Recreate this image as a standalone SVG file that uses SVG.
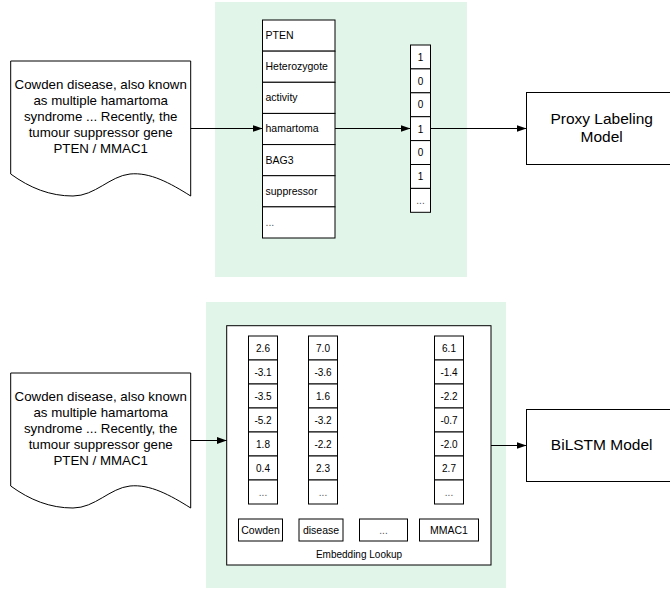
<svg xmlns="http://www.w3.org/2000/svg" width="670" height="589" viewBox="0 0 670 589">
<style>
.bg{fill:#e1f5e8;stroke:none}
.box{fill:#fff;stroke:#000;stroke-width:1}
.t{font-family:"Liberation Sans",Arial,sans-serif;fill:#000}
.doc{font-size:13.3px;text-anchor:middle}
.cell{font-size:10.5px}
.num{font-size:10px;text-anchor:middle}
.bin{font-size:10px;text-anchor:middle}
.big{font-size:15.5px;text-anchor:middle}
.dots{fill:#555}
.conn{stroke:#000;stroke-width:1;fill:none;marker-end:url(#ah)}
</style>
<defs>
<marker id="ah" markerWidth="10" markerHeight="8" refX="10" refY="4" orient="auto" markerUnits="userSpaceOnUse">
<path d="M0,0.5 L10,4 L0,7.5 Z" fill="#000"/>
</marker>
</defs>
<rect width="670" height="589" fill="#fff"/>
<g id="bg-top"><rect class="bg" x="215" y="2" width="252" height="275"/></g>
<g id="bg-bottom"><rect class="bg" x="206" y="302" width="300" height="286"/></g>

<g id="doc-top">
<path class="box" d="M10.7,61 H190.7 V196 C170,183 150,172 130,174 C110,176 95,196 73,196 C50,196 30,188 10.7,174 Z"/>
<text class="t doc" x="100.7" y="88.5">Cowden disease, also known</text>
<text class="t doc" x="100.7" y="104.5">as multiple hamartoma</text>
<text class="t doc" x="100.7" y="120.5">syndrome ... Recently, the</text>
<text class="t doc" x="100.7" y="136.5">tumour suppressor gene</text>
<text class="t doc" x="100.7" y="152.5">PTEN / MMAC1</text>
</g>

<g id="vocab">
<rect class="box" x="262.5" y="20" width="72.5" height="31.14"/>
<rect class="box" x="262.5" y="51.14" width="72.5" height="31.14"/>
<rect class="box" x="262.5" y="82.29" width="72.5" height="31.14"/>
<rect class="box" x="262.5" y="113.43" width="72.5" height="31.14"/>
<rect class="box" x="262.5" y="144.57" width="72.5" height="31.14"/>
<rect class="box" x="262.5" y="175.71" width="72.5" height="31.14"/>
<rect class="box" x="262.5" y="206.86" width="72.5" height="31.14"/>
<text class="t cell" x="265.5" y="39">PTEN</text>
<text class="t cell" x="265.5" y="70">Heterozygote</text>
<text class="t cell" x="265.5" y="101">activity</text>
<text class="t cell" x="265.5" y="132">hamartoma</text>
<text class="t cell" x="265.5" y="163.5">BAG3</text>
<text class="t cell" x="265.5" y="194.5">suppressor</text>
<text class="t cell dots" x="265.5" y="225.5">...</text>
</g>

<g id="binary">
<rect class="box" x="410.5" y="45" width="20" height="23.9"/>
<rect class="box" x="410.5" y="68.9" width="20" height="23.9"/>
<rect class="box" x="410.5" y="92.8" width="20" height="23.9"/>
<rect class="box" x="410.5" y="116.7" width="20" height="23.9"/>
<rect class="box" x="410.5" y="140.6" width="20" height="23.9"/>
<rect class="box" x="410.5" y="164.5" width="20" height="23.9"/>
<rect class="box" x="410.5" y="188.4" width="20" height="23.9"/>
<text class="t bin" x="420.5" y="60.5">1</text>
<text class="t bin" x="420.5" y="84.5">0</text>
<text class="t bin" x="420.5" y="108">0</text>
<text class="t bin" x="420.5" y="132.5">1</text>
<text class="t bin" x="420.5" y="156">0</text>
<text class="t bin" x="420.5" y="180">1</text>
<text class="t bin dots" x="420.5" y="203.5">...</text>
</g>

<g id="proxy">
<rect class="box" x="526.5" y="92.5" width="152" height="72"/>
<text class="t big" x="601.7" y="123.5">Proxy Labeling</text>
<text class="t big" x="601.7" y="142">Model</text>
</g>

<g id="doc-bottom">
<path class="box" d="M10.7,373 H190.7 V508 C170,495 150,484 130,486 C110,488 95,508 73,508 C50,508 30,500 10.7,486 Z"/>
<text class="t doc" x="100.7" y="400.5">Cowden disease, also known</text>
<text class="t doc" x="100.7" y="416.5">as multiple hamartoma</text>
<text class="t doc" x="100.7" y="432.5">syndrome ... Recently, the</text>
<text class="t doc" x="100.7" y="448.5">tumour suppressor gene</text>
<text class="t doc" x="100.7" y="464.5">PTEN / MMAC1</text>
</g>

<g id="embedding">
<rect class="box" x="226.7" y="325.7" width="264.3" height="239.3"/>
<text class="t" style="font-size:10px;text-anchor:middle" x="359" y="558">Embedding Lookup</text>
</g>

<g id="col-cowden">
<rect class="box" x="248.5" y="336" width="29" height="24"/>
<rect class="box" x="248.5" y="360" width="29" height="24"/>
<rect class="box" x="248.5" y="384" width="29" height="24"/>
<rect class="box" x="248.5" y="408" width="29" height="24"/>
<rect class="box" x="248.5" y="432" width="29" height="24"/>
<rect class="box" x="248.5" y="456" width="29" height="24"/>
<rect class="box" x="248.5" y="480" width="29" height="24"/>
<text class="t num" x="263" y="351.5">2.6</text>
<text class="t num" x="263" y="375.5">-3.1</text>
<text class="t num" x="263" y="399.5">-3.5</text>
<text class="t num" x="263" y="423.5">-5.2</text>
<text class="t num" x="263" y="447.5">1.8</text>
<text class="t num" x="263" y="471.5">0.4</text>
<text class="t num dots" x="263" y="495.5">...</text>
</g>

<g id="col-disease">
<rect class="box" x="308.5" y="336" width="29" height="24"/>
<rect class="box" x="308.5" y="360" width="29" height="24"/>
<rect class="box" x="308.5" y="384" width="29" height="24"/>
<rect class="box" x="308.5" y="408" width="29" height="24"/>
<rect class="box" x="308.5" y="432" width="29" height="24"/>
<rect class="box" x="308.5" y="456" width="29" height="24"/>
<rect class="box" x="308.5" y="480" width="29" height="24"/>
<text class="t num" x="323" y="351.5">7.0</text>
<text class="t num" x="323" y="375.5">-3.6</text>
<text class="t num" x="323" y="399.5">1.6</text>
<text class="t num" x="323" y="423.5">-3.2</text>
<text class="t num" x="323" y="447.5">-2.2</text>
<text class="t num" x="323" y="471.5">2.3</text>
<text class="t num dots" x="323" y="495.5">...</text>
</g>

<g id="col-mmac1">
<rect class="box" x="434.5" y="336" width="29" height="24"/>
<rect class="box" x="434.5" y="360" width="29" height="24"/>
<rect class="box" x="434.5" y="384" width="29" height="24"/>
<rect class="box" x="434.5" y="408" width="29" height="24"/>
<rect class="box" x="434.5" y="432" width="29" height="24"/>
<rect class="box" x="434.5" y="456" width="29" height="24"/>
<rect class="box" x="434.5" y="480" width="29" height="24"/>
<text class="t num" x="449" y="351.5">6.1</text>
<text class="t num" x="449" y="375.5">-1.4</text>
<text class="t num" x="449" y="399.5">-2.2</text>
<text class="t num" x="449" y="423.5">-0.7</text>
<text class="t num" x="449" y="447.5">-2.0</text>
<text class="t num" x="449" y="471.5">2.7</text>
<text class="t num dots" x="449" y="495.5">...</text>
</g>

<g id="word-cowden"><rect class="box" x="238.5" y="519" width="44" height="22"/><text class="t num" style="font-size:10.5px" x="260.5" y="534">Cowden</text></g>
<g id="word-disease"><rect class="box" x="299" y="519" width="44" height="22"/><text class="t num" style="font-size:10.5px" x="321" y="534">disease</text></g>
<g id="word-dots"><rect class="box" x="359.5" y="519" width="48" height="22"/><text class="t num dots" x="383.5" y="534">...</text></g>
<g id="word-mmac1"><rect class="box" x="419.5" y="519" width="59" height="22"/><text class="t num" style="font-size:10.5px" x="449" y="534">MMAC1</text></g>

<g id="bilstm">
<rect class="box" x="526.5" y="409.5" width="152" height="72"/>
<text class="t big" x="601.7" y="450">BiLSTM Model</text>
</g>

<g id="connectors">
<line class="conn" x1="190.7" y1="128.5" x2="262.5" y2="128.5"/>
<line class="conn" x1="335" y1="128.5" x2="410.5" y2="128.5"/>
<line class="conn" x1="430.5" y1="128.5" x2="526.5" y2="128.5"/>
<line class="conn" x1="190.7" y1="440.5" x2="226.7" y2="440.5"/>
<line class="conn" x1="491" y1="445.5" x2="526.5" y2="445.5"/>
</g>
</svg>
